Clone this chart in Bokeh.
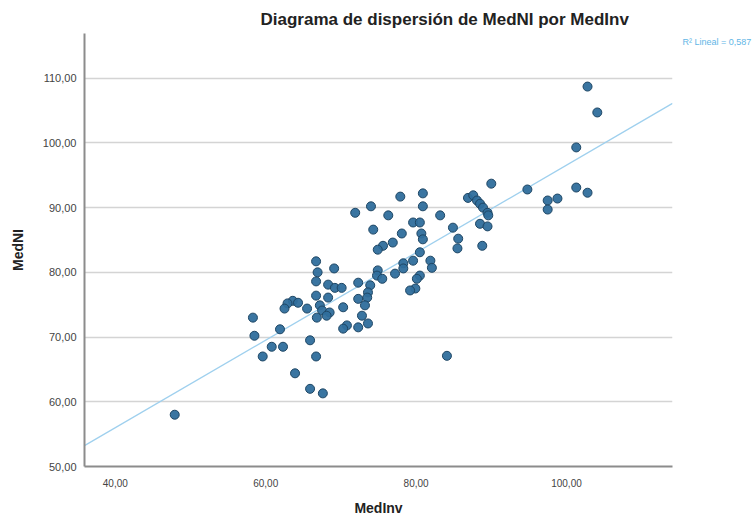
import numpy as np
from bokeh.plotting import figure
from bokeh.models import Range1d, FixedTicker, Title, LinearAxis
from bokeh.embed import file_html
from bokeh.resources import INLINE

# ---- data ----
med_inv = [
    47.9, 58.3, 58.5, 59.6, 60.8, 62.3, 61.9, 63.6, 64.3, 62.9, 62.5, 65.5, 63.9, 65.9, 67.6,
    65.9, 66.7, 66.7, 66.9, 69.1, 66.7, 68.3, 69.2, 70.1, 66.7, 68.3, 67.2, 67.5, 68.5, 68.1,
    66.8, 70.3, 70.8, 70.3,
    77.9, 80.9, 80.9, 74.0, 71.9, 76.3, 83.2, 86.9, 79.6, 80.5, 74.3, 80.7, 80.9, 78.1, 76.9,
    75.6, 74.9, 84.9, 85.6, 85.5, 80.5, 79.6, 78.3, 78.3, 81.9, 82.1, 77.2, 80.5, 80.1, 79.9,
    79.2, 74.9, 74.8, 75.5, 72.3, 73.9, 73.6, 73.5, 72.3, 73.2, 72.8, 73.6, 72.3, 84.1,
    102.8, 104.1, 101.3, 90.0, 94.8, 101.3, 102.8, 98.8, 97.5, 97.5, 87.6, 88.1, 88.5, 88.9,
    89.5, 89.6, 88.5, 89.5, 88.8,
]
med_ni = [
    58.0, 73.0, 70.2, 67.0, 68.5, 68.5, 71.2, 75.6, 75.3, 75.2, 74.4, 74.4, 64.4, 62.0, 61.3,
    69.5, 67.0, 81.7, 80.0, 80.6, 78.6, 78.1, 77.6, 77.6, 76.4, 76.1, 74.9, 74.1, 73.8, 73.3,
    73.0, 74.6, 71.8, 71.3,
    91.7, 92.2, 90.2, 90.2, 89.2, 88.8, 88.8, 91.5, 87.7, 87.7, 86.6, 86.0, 85.1, 86.0, 84.6,
    84.1, 83.5, 86.9, 85.2, 83.7, 83.1, 81.8, 81.4, 80.6, 81.8, 80.7, 79.8, 79.5, 79.0, 77.5,
    77.2, 80.3, 79.5, 79.0, 78.4, 78.0, 76.9, 76.1, 75.9, 74.9, 73.3, 72.1, 71.5, 67.1,
    108.7, 104.7, 99.3, 93.7, 92.8, 93.1, 92.3, 91.4, 91.1, 89.7, 91.9, 91.1, 90.6, 90.0,
    89.2, 88.8, 87.5, 87.1, 84.1,
]
x_ticks = [40, 60, 80, 100]
x_tick_labels = ["40,00", "60,00", "80,00", "100,00"]
y_ticks = [50, 60, 70, 80, 90, 100, 110]
y_tick_labels = ["50,00", "60,00", "70,00", "80,00", "90,00", "100,00", "110,00"]
title_text = "Diagrama de dispersión de MedNI por MedInv"
x_label = "MedInv"
y_label = "MedNI"
fit_label = "R² Lineal = 0,587"
fit_label_y = 115.6

FONT = "Liberation Sans"

p = figure(width=754, height=518, output_backend="svg", toolbar_location=None,
           x_range=Range1d(35.9, 114.1), y_range=Range1d(50.0, 116.9),
           min_border_left=84, min_border_right=82, min_border_top=33, min_border_bottom=52)
p.outline_line_color = None
p.background_fill_color = "white"

p.title = Title(text=title_text, align="left", offset=176, text_font=FONT,
                text_font_size="17px", text_font_style="bold", text_color="#222222")

# axes
for ax in (p.xaxis[0], p.yaxis[0]):
    ax.axis_line_color = "#8c8c8c"
    ax.axis_line_width = 2
    ax.major_tick_line_color = None
    ax.minor_tick_line_color = None
    ax.major_label_text_font = FONT
    ax.major_label_text_color = "#444444"
    ax.axis_label_text_font = FONT
    ax.axis_label_text_font_size = "14px"
    ax.axis_label_text_font_style = "bold"
    ax.axis_label_text_color = "#222222"

p.xaxis.ticker = FixedTicker(ticks=x_ticks)
p.xaxis.major_label_overrides = dict(zip(x_ticks, x_tick_labels))
p.xaxis.axis_label = x_label
p.xaxis.major_label_text_font_size = "10px"
p.xaxis.major_label_standoff = 6
p.xaxis.axis_label_standoff = 10

p.yaxis.ticker = FixedTicker(ticks=y_ticks)
p.yaxis.major_label_overrides = dict(zip(y_ticks, y_tick_labels))
p.yaxis.axis_label = y_label
p.yaxis.major_label_text_font_size = "11px"
p.yaxis.major_label_standoff = 2
p.yaxis.axis_label_standoff = 14

p.xgrid.grid_line_color = None
p.ygrid.grid_line_color = "#d4d4d4"
p.ygrid.grid_line_width = 1.5

# fit line (least squares on the data)
slope, intercept = np.polyfit(med_inv, med_ni, 1)
fx = [p.x_range.start, p.x_range.end]
fy = [intercept + slope * v for v in fx]
p.line(fx, fy, line_color="#9fd0ee", line_width=1.3)

# points
p.scatter(med_inv, med_ni, size=9, marker="circle", fill_color="#2f6e9c",
          line_color="#1e4664", line_width=1, fill_alpha=0.95)

# fit-line annotation at the right of the frame (as SPSS places it)
rax = LinearAxis(ticker=FixedTicker(ticks=[fit_label_y]),
                 major_label_overrides={fit_label_y: fit_label})
rax.axis_line_color = None
rax.major_tick_line_color = None
rax.minor_tick_line_color = None
rax.major_label_standoff = 4
rax.major_label_text_font = FONT
rax.major_label_text_font_size = "9px"
rax.major_label_text_color = "#5fb6e6"
p.add_layout(rax, "right")

open("out.html", "w").write(file_html(p, INLINE))
